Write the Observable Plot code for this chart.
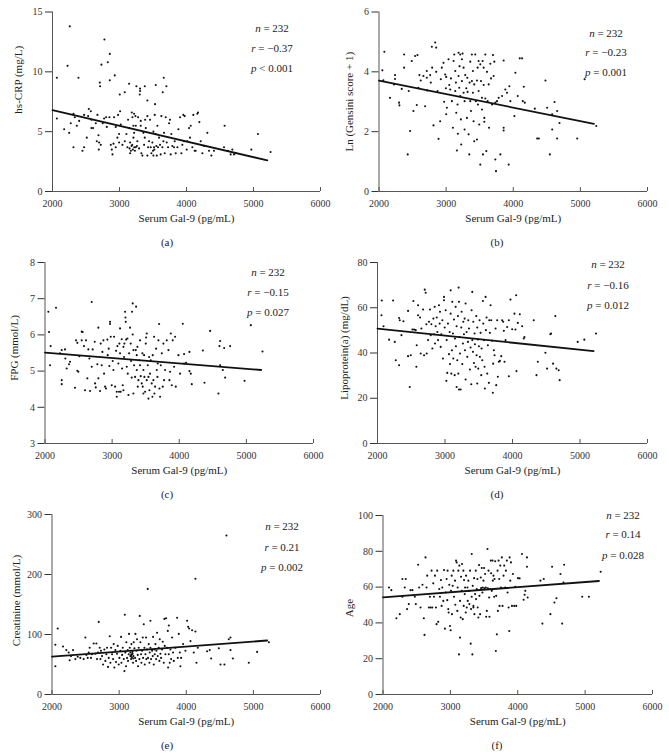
<!DOCTYPE html>
<html>
<head>
<meta charset="utf-8">
<script src="https://cdn.jsdelivr.net/npm/d3@7"></script>
<script src="https://cdn.jsdelivr.net/npm/@observablehq/plot@0.6"></script>
<style>
  html, body { margin: 0; padding: 0; background: #fff; }
  #root { position: relative; width: 669px; height: 756px; overflow: hidden; font-family: "Liberation Serif", "DejaVu Serif", serif; color: #222; }
  #root svg { position: absolute; font-family: "Liberation Serif", "DejaVu Serif", serif !important; }
  #root svg text { font-family: "Liberation Serif", "DejaVu Serif", serif !important; font-weight: normal !important; }
  .stat, .cap { position: absolute; font-size: 11px; white-space: nowrap; transform: translate(-50%, -50%); line-height: 1; }
</style>
</head>
<body>
<div id="root"></div>
<script>
const xTicks = [2000, 3000, 4000, 5000, 6000];
const xLabel = "Serum Gal-9 (pg/mL)";

// (a) hs-CRP
const crpPoints = [[2258,13.8],[2065,9.5],[2224,10.5],[2388,9.5],[2775,12.7],[2730,10.6],[2825,10.8],[2855,11.5],[2706,9.1],[2711,8.8],[2855,9.3],[2929,9.7],[3004,8.1],[3143,9.0],[3079,8.3],[3252,8.8],[3307,8.6],[3307,8.4],[3302,8.1],[3377,8.8],[3541,8.9],[3660,9.5],[3700,8.8],[3645,8.3],[3416,7.6],[3531,7.3],
[2065,6.1],[2174,5.2],[2249,4.9],[2273,5.7],[2313,6.5],[2313,3.7],[2333,6.2],[2363,5.5],[2398,5.9],[2447,3.4],[2472,3.7],[2472,6.4],[2512,4.5],[2532,6.3],[2542,6.9],[2572,6.7],[2581,6.0],[2581,5.3],[2606,5.3],[2646,5.7],[2661,4.2],[2671,6.4],[2686,4.7],[2696,4.1],[2721,3.9],[2691,3.5],[2750,5.7],[2770,6.1],[2800,6.2],[2810,5.4],[2850,6.2],[2870,3.9],[2885,3.5],[2895,3.1],[2910,4.0],[2944,3.7],[2919,6.2],[2944,5.4],[2969,4.5],[2994,4.8],[2979,6.4],[3009,6.7],[3019,5.6],[2994,4.1],[3044,3.9],[3079,4.2],[3103,4.8],[3118,3.7],[3128,6.0],[3143,5.3],[3158,4.1],[3158,3.2],[3193,6.2],[3183,6.6],[3218,6.5],[3208,5.5],[3208,4.5],[3218,4.9],[3238,6.3],[3243,5.5],[3243,3.7],[3267,4.2],[3277,6.2],[3292,3.6],[3317,5.9],[3317,5.5],[3327,3.2],[3342,3.0],[3357,4.9],[3367,3.9],[3377,4.5],[3382,6.0],[3392,5.3],[3416,6.3],[3416,3.0],[3426,3.7],[3441,4.2],[3456,6.0],[3466,3.7],[3476,3.2],[3491,4.1],[3506,5.0],[3506,3.0],[3516,3.7],[3526,6.4],[3541,4.8],[3556,3.0],[3566,5.5],[3575,3.7],[3590,4.5],[3605,3.9],[3615,3.1],[3625,6.3],[3640,3.7],[3655,4.2],[3665,4.9],[3675,3.2],[3690,6.2],[3705,4.1],[3725,3.7],[3740,5.7],[3754,6.0],[3764,3.1],[3774,4.8],[3789,3.8],[3814,3.7],[3824,4.2],[3839,3.2],[3864,3.7],[3879,5.2],[3904,6.2],[3923,3.2],[3938,3.9],[3953,6.4],[3963,4.2],[3973,6.3],[4003,3.5],[4013,4.2],[4038,5.3],[4053,4.5],[4063,5.5],[4087,3.7],[4102,6.4],[4122,3.4],[4137,3.4],[4162,6.5],[4172,6.6],[4192,5.8],[4212,4.2],[4237,3.2],[4261,3.8],[4311,4.9],[4336,3.4],[4371,3.0],[4410,3.4],[4569,5.5],[4560,3.7],[4619,3.4],[4684,3.5],[4709,3.1],[4659,3.1],[4734,3.2],[4967,3.5],[5066,4.8],[5255,3.3],
[3150,3.6],[3180,3.8],[3200,3.5],[3220,3.7],[3170,3.4],[3520,3.5],[3550,3.8],[3500,3.4],[3190,3.9],[3230,3.4],[3260,3.8]];
const crpLine = [[2000,6.8],[5206,2.6]];

// (b) Ln(Gensini score + 1)
const gensiniPoints = [[2080,4.67],[2050,4.05],[2065,3.72],[2164,3.13],[2224,3.58],[2239,3.89],[2239,3.76],[2299,2.97],[2304,2.88],[2339,3.43],[2374,4.58],[2374,4.14],[2443,3.36],[2463,2.02],[2428,1.24],[2488,4.36],[2513,2.69],[2538,4.53],[2563,2.89],[2573,4.56],[2587,3.47],[2602,3.89],[2622,3.71],[2662,3.86],[2687,2.85],[2712,4.03],[2717,3.38],[2712,3.80],[2762,3.89],[2772,3.64],[2787,4.84],[2792,4.14],[2812,2.21],[2837,4.98],[2852,4.81],[2852,4.0],[2872,3.36],[2887,1.76],[2911,2.35],[2921,3.75],[2936,4.14],[2961,4.3],[2971,3.0],[2986,3.91],[2996,3.45],[3001,2.58],[3011,2.8],[3001,3.83],[3036,4.42],[3046,3.56],[3061,3.41],[3071,3.78],[3086,3.02],[3101,2.13],[3111,4.36],[3121,4.58],[3136,4.03],[3136,3.36],[3146,3.64],[3151,2.63],[3160,1.37],[3170,2.91],[3175,1.93],[3185,4.64],[3185,3.86],[3195,3.47],[3200,4.19],[3210,4.58],[3210,3.19],[3220,2.41],[3225,1.57],[3235,4.42],[3235,3.69],[3245,4.61],[3260,4.14],[3260,3.3],[3275,3.02],[3275,2.07],[3285,3.89],[3300,3.45],[3310,2.46],[3315,3.8],[3320,3.33],[3335,1.91],[3345,1.24],[3350,3.64],[3360,4.34],[3360,3.02],[3370,2.69],[3384,4.58],[3384,3.69],[3399,4.03],[3399,3.3],[3409,2.35],[3419,3.58],[3419,1.68],[3434,4.58],[3444,3.02],[3459,1.74],[3459,3.71],[3469,4.14],[3474,2.91],[3484,4.36],[3484,3.36],[3494,2.24],[3509,4.25],[3509,0.9],[3519,3.69],[3534,3.13],[3534,2.74],[3544,4.36],[3549,1.24],[3559,4.14],[3559,3.56],[3569,2.46],[3569,2.33],[3584,4.58],[3584,3.11],[3599,1.35],[3609,4.0],[3619,3.02],[3634,3.58],[3639,2.13],[3659,4.27],[3669,3.78],[3684,2.91],[3698,4.56],[3708,3.86],[3718,4.34],[3733,1.07],[3743,0.68],[3733,2.97],[3758,3.02],[3783,3.13],[3808,1.24],[3833,3.19],[3857,4.38],[3857,2.13],[3857,2.04],[3882,3.41],[3907,3.3],[3932,0.9],[3942,3.52],[3957,3.02],[4032,3.97],[4017,2.52],[4067,3.19],[4097,4.45],[4132,4.45],[4142,3.02],[4157,3.5],[4172,2.97],[4321,2.77],[4356,1.77],[4381,1.77],[4480,3.71],[4505,2.8],[4545,1.24],[4580,2.07],[4580,2.58],[4615,2.99],[4654,2.69],[4654,1.77],[4689,2.29],[4953,1.77],[5063,3.75],[5237,2.19]];
const gensiniLine = [[2000,3.71],[5202,2.26]];

// (c) FPG
const fpgPoints = [[2050,6.64],[2060,6.08],[2084,5.69],[2164,6.75],[2075,5.16],[2224,5.49],[2249,5.58],[2249,4.75],[2249,4.64],[2298,5.6],[2303,5.35],[2323,5.07],[2358,5.19],[2373,5.26],[2447,4.54],[2462,5.85],[2482,5.78],[2482,5.01],[2497,4.98],[2512,5.41],[2547,6.09],[2562,6.08],[2547,5.85],[2581,5.69],[2596,4.47],[2611,5.85],[2631,4.8],[2646,5.6],[2661,5.35],[2671,4.45],[2696,6.91],[2696,5.12],[2711,5.6],[2741,5.81],[2746,4.66],[2756,4.55],[2780,5.19],[2795,6.2],[2795,4.8],[2820,4.45],[2830,5.76],[2845,5.16],[2855,5.53],[2870,5.85],[2880,4.93],[2895,4.57],[2909,4.52],[2929,5.87],[2934,5.44],[2949,5.62],[2959,5.14],[2969,6.36],[2969,6.3],[2979,5.95],[2994,4.61],[3009,5.28],[3019,5.03],[3029,5.95],[3044,4.57],[3059,5.56],[3069,4.29],[3069,4.43],[3079,5.69],[3093,5.21],[3103,4.43],[3108,5.76],[3118,6.18],[3118,5.49],[3128,4.43],[3143,5.88],[3148,5.07],[3158,4.61],[3168,5.67],[3168,4.47],[3178,5.39],[3183,5.76],[3193,6.64],[3198,6.48],[3203,6.36],[3208,5.87],[3218,5.12],[3228,5.9],[3233,4.93],[3243,4.34],[3253,5.49],[3267,6.2],[3277,5.76],[3282,5.28],[3292,4.82],[3297,6.64],[3307,6.87],[3307,6.01],[3317,5.58],[3317,4.38],[3327,5.16],[3342,4.84],[3352,5.58],[3357,6.78],[3367,5.44],[3367,5.03],[3377,5.67],[3382,4.57],[3392,4.75],[3406,5.3],[3416,5.85],[3416,5.16],[3426,4.86],[3441,4.66],[3451,5.49],[3456,4.57],[3466,4.38],[3466,5.03],[3476,5.44],[3481,4.84],[3491,4.43],[3501,5.76],[3506,5.93],[3516,6.04],[3516,4.75],[3531,5.16],[3541,4.84],[3541,4.24],[3551,5.39],[3556,4.47],[3565,4.93],[3575,5.3],[3590,4.66],[3600,4.29],[3605,5.44],[3615,4.75],[3625,5.95],[3630,4.38],[3640,4.57],[3655,5.62],[3665,5.03],[3675,4.84],[3680,5.21],[3690,5.85],[3700,6.3],[3705,4.52],[3715,4.29],[3725,5.16],[3740,5.49],[3754,4.57],[3764,5.76],[3774,4.75],[3789,5.03],[3814,5.85],[3839,5.58],[3854,4.75],[3864,4.98],[3874,6.04],[3889,4.61],[3903,5.85],[3923,5.12],[3938,5.95],[3948,4.57],[3988,5.44],[4013,4.93],[4053,6.31],[4072,5.21],[4072,5.47],[4102,5.23],[4152,5.0],[4152,5.53],[4172,4.93],[4187,4.64],[4460,6.11],[4351,5.57],[4376,4.68],[4599,5.69],[4609,5.83],[4584,4.38],[4609,5.16],[4649,5.03],[4669,5.64],[4684,4.82],[4758,5.69],[4973,4.73],[5066,6.27],[5240,5.54]];
const fpgLine = [[2000,5.51],[5221,5.03]];

// (d) Lipoprotein(a)
const lpaPoints = [[2064,63.2],[2059,56.7],[2089,51.8],[2172,45.9],[2231,63.2],[2256,44.9],[2271,36.8],[2320,55.5],[2330,54.5],[2320,34.6],[2355,47.9],[2384,54.0],[2453,58.6],[2453,38.6],[2478,25.0],[2493,39.0],[2517,50.4],[2532,63.0],[2542,50.4],[2566,50.1],[2576,33.9],[2581,43.4],[2601,56.7],[2601,61.1],[2631,55.7],[2640,39.8],[2650,50.8],[2675,59.2],[2690,39.0],[2700,68.0],[2714,66.6],[2724,52.7],[2729,39.8],[2749,45.7],[2763,53.8],[2778,59.2],[2788,47.9],[2798,52.7],[2813,42.0],[2828,55.2],[2837,48.3],[2847,60.4],[2852,44.2],[2862,51.8],[2877,55.7],[2887,49.3],[2897,45.7],[2911,61.1],[2921,53.0],[2926,58.2],[2936,42.7],[2946,48.3],[2961,54.5],[2970,37.6],[2985,64.8],[2985,63.3],[2995,51.3],[3010,58.9],[3020,27.7],[3025,45.7],[3034,31.2],[3044,53.0],[3059,39.5],[3069,49.3],[3074,35.1],[3084,67.7],[3084,57.4],[3094,30.9],[3103,41.2],[3108,62.6],[3118,48.6],[3123,37.6],[3133,54.8],[3143,30.2],[3148,46.4],[3158,60.4],[3162,43.0],[3172,25.0],[3172,51.8],[3182,36.8],[3192,56.3],[3197,30.9],[3202,68.9],[3207,62.6],[3207,23.9],[3217,47.1],[3222,39.8],[3232,23.9],[3241,51.3],[3246,58.2],[3256,35.1],[3266,44.2],[3271,53.8],[3281,48.3],[3291,55.2],[3296,41.2],[3305,61.9],[3305,28.3],[3320,49.3],[3330,38.3],[3340,44.9],[3345,54.5],[3355,50.8],[3369,32.7],[3379,42.4],[3389,26.2],[3394,58.9],[3404,67.0],[3404,45.7],[3414,40.5],[3419,53.8],[3429,35.6],[3438,48.6],[3443,43.9],[3453,33.9],[3463,56.3],[3468,39.0],[3478,51.3],[3478,26.5],[3488,46.0],[3493,33.1],[3502,43.0],[3512,54.5],[3517,38.3],[3527,48.9],[3537,30.2],[3542,42.0],[3552,36.8],[3562,63.0],[3567,53.0],[3576,45.7],[3586,33.9],[3591,24.3],[3601,64.8],[3606,50.1],[3616,55.7],[3626,30.9],[3635,43.4],[3650,26.8],[3655,54.5],[3665,48.9],[3675,61.1],[3685,54.5],[3699,45.4],[3709,22.4],[3714,35.3],[3724,41.2],[3734,39.0],[3749,50.8],[3759,25.8],[3773,54.5],[3783,29.5],[3798,36.1],[3813,36.5],[3833,38.6],[3847,54.5],[3862,53.8],[3872,49.8],[3882,36.1],[3897,45.7],[3921,51.5],[3946,29.7],[3946,54.5],[3970,63.6],[3995,50.5],[4029,57.4],[4044,50.4],[4054,65.5],[4059,32.0],[4079,53.3],[4108,57.1],[4143,51.8],[4167,46.4],[4177,47.1],[4315,54.5],[4355,30.2],[4375,36.1],[4488,40.1],[4512,33.1],[4561,48.3],[4571,48.6],[4601,35.3],[4635,56.3],[4650,33.1],[4684,32.4],[4699,28.0],[4966,44.9],[5064,45.9],[5237,48.6]];
const lpaLine = [[2000,50.8],[5202,40.8]];

// (e) Creatinine
const creatPoints = [[2050,83],[2085,110],[2050,47],[2164,80],[2214,74],[2249,70],[2263,57],[2283,64],[2313,74],[2348,59],[2383,63],[2422,61],[2472,59],[2497,95],[2512,66],[2532,61],[2547,70],[2561,78],[2581,61],[2596,67],[2621,85],[2646,68],[2661,85],[2671,59],[2686,70],[2696,121],[2711,78],[2721,59],[2730,73],[2745,64],[2760,50],[2780,75],[2795,56],[2810,67],[2820,78],[2835,46],[2845,61],[2860,97],[2870,53],[2880,78],[2895,67],[2910,59],[2919,84],[2929,45],[2944,74],[2954,54],[2969,68],[2979,81],[2994,50],[3004,61],[3019,73],[3029,96],[3034,53],[3044,66],[3054,78],[3069,59],[3079,39],[3084,133],[3093,70],[3103,47],[3108,87],[3118,61],[3128,74],[3133,56],[3143,67],[3148,101],[3158,78],[3168,64],[3168,70],[3178,59],[3183,84],[3193,67],[3198,71],[3208,53],[3213,64],[3218,87],[3228,77],[3238,61],[3243,101],[3253,56],[3257,73],[3267,92],[3277,66],[3282,47],[3292,78],[3302,59],[3307,131],[3317,87],[3327,67],[3332,53],[3342,73],[3352,95],[3357,61],[3367,117],[3377,78],[3382,50],[3392,67],[3401,95],[3406,59],[3416,75],[3426,176],[3431,61],[3441,84],[3451,53],[3456,70],[3466,123],[3466,78],[3476,59],[3491,73],[3501,64],[3506,96],[3516,50],[3526,75],[3531,67],[3541,84],[3551,59],[3556,73],[3566,103],[3575,64],[3590,78],[3600,56],[3605,92],[3615,68],[3625,61],[3640,75],[3650,88],[3665,53],[3675,126],[3680,81],[3690,67],[3700,127],[3715,78],[3725,106],[3730,45],[3740,115],[3740,67],[3754,53],[3764,75],[3774,59],[3789,95],[3804,70],[3814,56],[3839,78],[3864,128],[3874,61],[3889,101],[3904,70],[3913,47],[3923,61],[3953,84],[3988,73],[4013,123],[4028,113],[4043,110],[4063,89],[4087,107],[4112,70],[4137,193],[4137,105],[4152,53],[4172,78],[4311,72],[4350,74],[4371,60],[4485,77],[4510,50],[4569,50],[4599,265],[4634,92],[4659,95],[4659,74],[4694,60],[4932,53],[5056,71],[5231,87],
[3180,66],[3190,62],[3200,68],[3175,64],[3210,60]];
const creatLine = [[2000,63],[5206,90]];

// (f) Age
const agePoints = [[2089,59.8],[2124,58.3],[2199,42.6],[2249,44.9],[2288,64.5],[2338,64.5],[2288,54.6],[2323,59.8],[2358,47.7],[2383,50.5],[2408,58.3],[2437,58.3],[2472,54.6],[2487,50.5],[2522,72.5],[2537,59.8],[2557,48.6],[2586,61.3],[2606,42.6],[2616,33.3],[2631,76.6],[2646,59.8],[2656,66.4],[2681,48.6],[2696,54.6],[2706,48.6],[2721,69.2],[2731,48.6],[2746,62.1],[2756,54.6],[2771,66.4],[2786,48.6],[2795,39.3],[2805,69.2],[2820,40.6],[2835,58.9],[2845,54.6],[2860,63.9],[2870,49.5],[2880,59.8],[2895,52.3],[2905,69.5],[2919,36.8],[2929,57.0],[2944,64.5],[2954,52.7],[2959,69.2],[2969,47.7],[2974,45.8],[2984,61.3],[2994,38.3],[3004,35.9],[3009,57.9],[3019,66.4],[3024,44.9],[3034,60.7],[3044,69.2],[3054,54.6],[3069,63.6],[3074,50.1],[3084,74.8],[3093,73.8],[3103,46.7],[3108,59.8],[3118,69.2],[3128,22.4],[3133,72.0],[3143,52.3],[3143,31.8],[3153,43.0],[3158,65.8],[3168,57.9],[3173,72.9],[3183,42.1],[3193,69.2],[3198,49.5],[3203,63.9],[3213,56.1],[3218,59.8],[3228,45.8],[3233,66.4],[3243,48.6],[3253,59.8],[3258,52.3],[3267,63.6],[3277,57.9],[3282,50.5],[3292,69.2],[3302,28.4],[3307,47.7],[3317,54.6],[3317,78.5],[3327,22.4],[3332,60.7],[3342,49.5],[3342,48.6],[3352,65.0],[3357,44.9],[3367,56.1],[3377,69.2],[3381,53.3],[3391,58.9],[3401,64.5],[3406,48.6],[3416,43.0],[3426,72.3],[3431,55.1],[3441,44.9],[3451,65.4],[3456,59.4],[3466,70.7],[3476,57.0],[3481,59.8],[3491,63.6],[3501,70.7],[3506,59.3],[3516,67.3],[3526,59.8],[3531,43.4],[3541,46.7],[3551,81.3],[3556,59.3],[3566,69.2],[3575,54.2],[3580,43.4],[3590,58.9],[3600,74.8],[3605,67.7],[3615,57.9],[3625,74.8],[3630,63.6],[3640,66.4],[3650,54.6],[3655,64.5],[3665,74.4],[3675,24.3],[3680,55.1],[3690,33.6],[3700,69.2],[3705,46.7],[3715,74.8],[3725,64.5],[3730,49.5],[3740,72.0],[3750,59.8],[3764,76.6],[3774,49.5],[3789,66.4],[3799,72.0],[3814,59.8],[3824,69.2],[3839,74.8],[3849,57.0],[3864,48.6],[3874,35.5],[3879,76.6],[3889,63.6],[3899,73.8],[3914,49.5],[3928,67.3],[3948,49.5],[3963,60.2],[3978,49.5],[4003,65.0],[4028,64.9],[4063,78.5],[4087,52.9],[4102,55.7],[4112,57.9],[4137,71.4],[4137,76.6],[4147,54.2],[4336,63.6],[4386,64.5],[4366,39.6],[4485,44.9],[4510,71.4],[4545,51.4],[4574,53.8],[4634,67.3],[4659,39.6],[4679,62.6],[4689,72.5],[4957,54.6],[5056,54.6],[5231,68.6]];
const ageLine = [[2000,54.3],[5206,63.4]];

const panels = [
  {cap:"(a)", pts:crpPoints, line:crpLine, yDomain:[0,15], yTicks:[0,5,10,15], yLabel:"hs-CRP (mg/L)",
   f:{x0:52,x1:320,y0:11.5,y1:191}, ylDx:-34, ylDy:-22, stats:["232","−0.37","<|0.001"], sx:272, sy:[28,48,68], col:0},
  {cap:"(b)", pts:gensiniPoints, line:gensiniLine, yDomain:[0,6], yTicks:[0,2,4,6], yLabel:"Ln (Gensini score + 1)",
   f:{x0:378.5,x1:647,y0:11.5,y1:191}, ylDx:-30, ylDy:0, stats:["232","−0.23","=|0.001"], sx:606, sy:[33,52,72], col:1},
  {cap:"(c)", pts:fpgPoints, line:fpgLine, yDomain:[3,8], yTicks:[3,4,5,6,7,8], yLabel:"FPG (mmol/L)",
   f:{x0:44.5,x1:313,y0:262,y1:443}, ylDx:-31, ylDy:-5, stats:["232","−0.15","=|0.027"], sx:268, sy:[272,292,312], col:0},
  {cap:"(d)", pts:lpaPoints, line:lpaLine, yDomain:[0,80], yTicks:[0,20,40,60,80], yLabel:"Lipoprotein(a) (mg/dL)",
   f:{x0:377,x1:647,y0:262,y1:443}, ylDx:-33, ylDy:-5, stats:["232","−0.16","=|0.012"], sx:608, sy:[264,285,305], col:1},
  {cap:"(e)", pts:creatPoints, line:creatLine, yDomain:[0,300], yTicks:[0,100,200,300], yLabel:"Creatinine (mmol/L)",
   f:{x0:51.5,x1:320,y0:514,y1:694}, ylDx:-36, ylDy:-4, stats:["232","0.21","=|0.002"], sx:282, sy:[526,547,567], col:0},
  {cap:"(f)", pts:agePoints, line:ageLine, yDomain:[0,100], yTicks:[0,20,40,60,80,100], yLabel:"Age",
   f:{x0:382.5,x1:652,y0:515,y1:694}, ylDx:-34, ylDy:3, stats:["232","0.14","=|0.028"], sx:623, sy:[515,534,555], col:1}
];

const root = document.getElementById("root");
const axisColor = "#555";
const serif = '"Liberation Serif", "DejaVu Serif", serif';

for (const p of panels) {
  const f = p.f;
  const L = Math.floor(f.x0) - 52;
  const T = Math.floor(f.y0) - 14;
  const width = Math.ceil(f.x1 - L + 20);
  const height = Math.ceil(f.y1 - T + 46);
  const mL = f.x0 - L, mT = f.y0 - T, mR = L + width - f.x1, mB = T + height - f.y1;
  const innerH = f.y1 - f.y0;
  const svg = Plot.plot({
    width, height,
    marginLeft: mL, marginRight: mR, marginTop: mT, marginBottom: mB,
    style: {fontFamily: serif, fontSize: "10px", color: "#333", background: "transparent", overflow: "visible"},
    x: {domain: [2000, 6000], ticks: xTicks, tickFormat: "d", tickSize: 0, tickPadding: 8, label: null},
    y: {domain: p.yDomain, ticks: p.yTicks, tickFormat: "d", tickSize: 7, tickPadding: 3, label: null},
    marks: [
      Plot.ruleX([2000], {stroke: axisColor, strokeWidth: 1}),
      Plot.ruleY([p.yDomain[0]], {stroke: axisColor, strokeWidth: 1}),
      Plot.ruleX(xTicks, {x: d => d, insetTop: innerH - 4, stroke: axisColor}),
      Plot.dot(p.pts, {x: d => d[0], y: d => d[1], r: 1.05, fill: "#111", stroke: "none"}),
      Plot.line(p.line, {x: d => d[0], y: d => d[1], stroke: "#111", strokeWidth: 1.8}),
      Plot.text([p.yLabel], {text: d => d, frameAnchor: "left", textAnchor: "middle", dx: p.ylDx, dy: p.ylDy, rotate: -90, fontSize: 11, fill: "#222"}),
      Plot.text([xLabel], {text: d => d, frameAnchor: "bottom", textAnchor: "middle", dy: 30, fontSize: 11, fill: "#222"})
    ]
  });
  svg.style.left = L + "px";
  svg.style.top = T + "px";
  root.appendChild(svg);

  const [nv, rv, pv] = p.stats;
  const [pop, pval] = pv.split("|");
  const lines = [
    `<i>n</i> = ${nv}`,
    `<i>r</i> = ${rv}`,
    `<i>p</i> ${pop === "<" ? "&lt;" : "="} ${pval}`
  ];
  lines.forEach((h, i) => {
    const d = document.createElement("div");
    d.className = "stat";
    d.innerHTML = h;
    d.style.left = p.sx + "px";
    d.style.top = p.sy[i] + "px";
    root.appendChild(d);
  });
  const c = document.createElement("div");
  c.className = "cap";
  c.textContent = p.cap;
  c.style.left = (p.col === 0 ? 167 : 497) + "px";
  c.style.top = (f.y1 + 51) + "px";
  root.appendChild(c);
}
</script>
</body>
</html>
